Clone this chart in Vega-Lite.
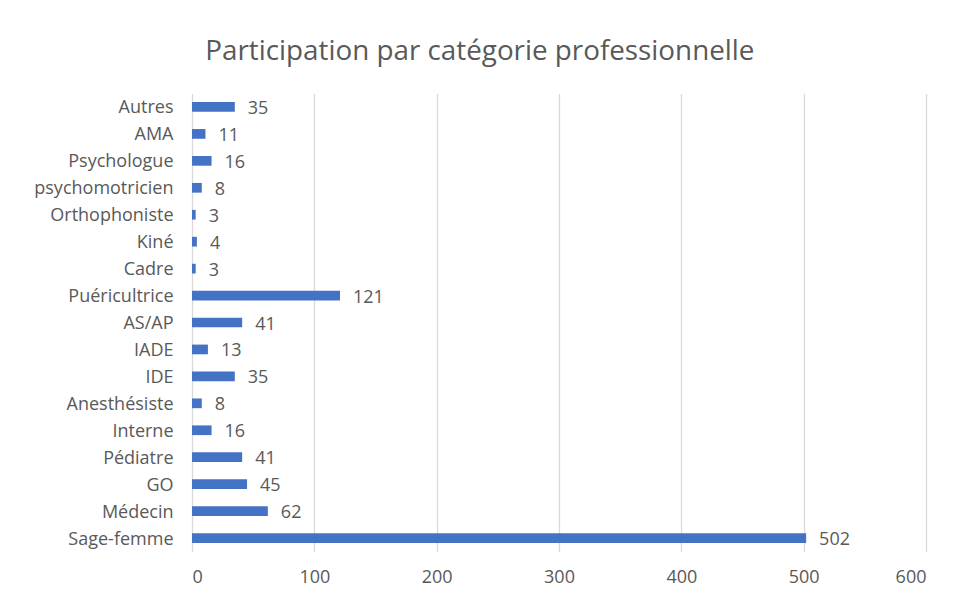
{
  "$schema": "https://vega.github.io/schema/vega-lite/v6.json",
  "width": 734,
  "height": 458,
  "autosize": "none",
  "padding": {"left": 192, "top": 93.5, "right": 27, "bottom": 46},
  "background": "white",
  "title": {
    "text": "Participation par catégorie professionnelle",
    "font": "Open Sans",
    "fontSize": 27.8,
    "fontWeight": "normal",
    "color": "#595959",
    "anchor": "middle",
    "frame": "bounds",
    "offset": 28
  },
  "data": {
    "values": [
      {"categorie": "Autres", "n": 35},
      {"categorie": "AMA", "n": 11},
      {"categorie": "Psychologue", "n": 16},
      {"categorie": "psychomotricien", "n": 8},
      {"categorie": "Orthophoniste", "n": 3},
      {"categorie": "Kiné", "n": 4},
      {"categorie": "Cadre", "n": 3},
      {"categorie": "Puéricultrice", "n": 121},
      {"categorie": "AS/AP", "n": 41},
      {"categorie": "IADE", "n": 13},
      {"categorie": "IDE", "n": 35},
      {"categorie": "Anesthésiste", "n": 8},
      {"categorie": "Interne", "n": 16},
      {"categorie": "Pédiatre", "n": 41},
      {"categorie": "GO", "n": 45},
      {"categorie": "Médecin", "n": 62},
      {"categorie": "Sage-femme", "n": 502}
    ]
  },
  "encoding": {
    "y": {
      "field": "categorie",
      "type": "nominal",
      "sort": null,
      "title": null,
      "scale": {"paddingInner": 0.64, "paddingOuter": 0.32},
      "axis": {
        "domain": false,
        "ticks": false,
        "labelPadding": 19,
        "labelOffset": 1.5,
        "labelFont": "Open Sans",
        "labelFontSize": 18,
        "labelColor": "#595959",
        "labelLimit": 300
      }
    },
    "x": {
      "field": "n",
      "type": "quantitative",
      "title": null,
      "scale": {"domain": [0, 600], "nice": false},
      "axis": {
        "values": [0, 100, 200, 300, 400, 500, 600],
        "domain": false,
        "ticks": false,
        "grid": true,
        "gridColor": "#d9d9d9",
        "gridWidth": 1.3,
        "labelPadding": 17,
        "labelFont": "Open Sans",
        "labelFontSize": 18,
        "labelColor": "#595959"
      }
    }
  },
  "layer": [
    {"mark": {"type": "bar", "color": "#4472C4"}},
    {
      "mark": {
        "type": "text",
        "align": "left",
        "baseline": "middle",
        "dx": 13,
        "dy": 2,
        "font": "Open Sans",
        "fontSize": 18,
        "color": "#595959"
      },
      "encoding": {"text": {"field": "n", "type": "quantitative"}}
    }
  ],
  "config": {"view": {"stroke": null}}
}
